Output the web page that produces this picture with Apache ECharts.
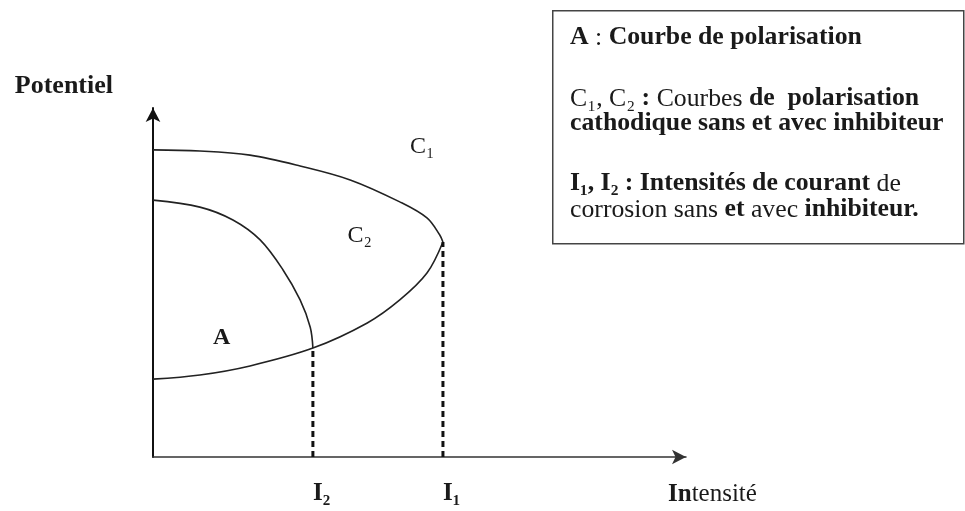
<!DOCTYPE html>
<html>
<head>
<meta charset="utf-8">
<script src="https://cdn.jsdelivr.net/npm/echarts@6/dist/echarts.min.js"></script>
<style>
html, body { margin: 0; padding: 0; background: #fff; }
#chart { width: 965px; height: 511px; }
</style>
</head>
<body>
<div id="chart"></div>
<script>
// courbe A : polarisation anodique
const anodeX = [0, 8.8, 15.0, 20.1, 24.4, 27.6, 29.5, 30.0]
const anodeY = [73.6, 71.6, 67.9, 62.2, 53.6, 45.0, 37.2, 31.2]
// courbe C1 : cathodique sans inhibiteur
const c1X = [0, 8.8, 18.2, 27.6, 37.0, 46.3, 51.4, 53.8, 54.4]
const c1Y = [88.0, 87.7, 86.5, 83.4, 79.4, 73.1, 68.5, 63.6, 61.6]
// courbe C2 : cathodique avec inhibiteur
const c2X = [0, 8.8, 18.2, 30.0, 40.2, 46.3, 51.4, 54.4]
const c2Y = [22.3, 23.5, 26.1, 31.2, 38.4, 45.0, 52.7, 61.6]
// intensites de corrosion (I2 avec inhibiteur, I1 sans)
const courantNoms = ['I₂', 'I₁']
const courantX = [30.0, 54.4]
const courantY = [31.2, 61.6]
// reperes des courbes
const repereNoms = ['{b|A}', '{n|C₂}', '{n|C₁}']
const repereX = [12.9, 38.8, 50.5]
const repereY = [34.1, 63.3, 88.8]
// texte de l'encadre
const legendeLignes = [
  '{b|A}{n| : }{b|Courbe de polarisation}',
  '{n|C₁, C₂ }{b|: }{n|Courbes }{b|de  polarisation}',
  '{b|cathodique sans et avec inhibiteur}',
  '{b|I₁, I₂ : Intensités de courant }{n|de}',
  '{n|corrosion sans }{b|et }{n|avec }{b|inhibiteur.}'
]

const serif = "'Liberation Serif', 'DejaVu Serif', serif"
const ink = '#1a1a1a'
const zip = (xs, ys) => xs.map((x, i) => [x, ys[i]])

const chart = echarts.init(document.getElementById('chart'))

const curveStyle = { color: '#222', width: 1.6 }
const richText = {
  b: { fontFamily: serif, fontSize: 25, fontWeight: 'bold', fill: ink },
  n: { fontFamily: serif, fontSize: 25, fontWeight: 'normal', fill: ink }
}
const ligneY = [38, 99, 124, 184, 210]

const option = {
  animation: false,
  backgroundColor: '#fff',
  grid: { left: 153, right: 279, top: 108, bottom: 54, outerBoundsMode: 'none' },
  xAxis: {
    type: 'value',
    min: 0,
    max: 100,
    name: '{b|In}{n|tensité}',
    nameLocation: 'end',
    nameGap: -18,
    nameTextStyle: {
      align: 'left',
      verticalAlign: 'top',
      padding: [25, 0, 0, 0],
      rich: {
        b: { fontFamily: serif, fontSize: 25, fontWeight: 'bold', color: ink },
        n: { fontFamily: serif, fontSize: 25, fontWeight: 'normal', color: ink }
      }
    },
    axisLine: {
      symbol: ['none', 'arrow'],
      symbolSize: [11, 14],
      lineStyle: { color: '#333', width: 1.5 }
    },
    axisTick: { show: false },
    splitLine: { show: false },
    axisLabel: {
      customValues: courantX,
      formatter: v => courantNoms[courantX.indexOf(v)],
      align: 'left',
      margin: 24,
      fontFamily: serif,
      fontSize: 25,
      fontWeight: 'bold',
      color: ink
    }
  },
  yAxis: {
    type: 'value',
    min: 0,
    max: 100,
    name: 'Potentiel',
    nameLocation: 'end',
    nameGap: 9,
    nameTextStyle: {
      fontFamily: serif,
      fontSize: 26,
      fontWeight: 'bold',
      color: ink,
      align: 'right',
      verticalAlign: 'bottom',
      padding: [0, 40, 0, 0]
    },
    axisLine: {
      symbol: ['none', 'arrow'],
      symbolSize: [11, 14],
      lineStyle: { color: '#111', width: 2 }
    },
    axisTick: { show: false },
    axisLabel: { show: false },
    splitLine: { show: false }
  },
  series: [
    {
      type: 'line',
      data: zip(anodeX, anodeY),
      smooth: 0.35,
      showSymbol: false,
      lineStyle: curveStyle
    },
    {
      type: 'line',
      data: zip(c1X, c1Y),
      smooth: 0.35,
      showSymbol: false,
      lineStyle: curveStyle
    },
    {
      type: 'line',
      data: zip(c2X, c2Y),
      smooth: 0.35,
      showSymbol: false,
      lineStyle: curveStyle
    },
    ...courantX.map((x, i) => ({
      type: 'line',
      data: [[x, 0], [x, courantY[i]]],
      showSymbol: false,
      lineStyle: { color: '#111', width: 3, type: [6, 4] }
    })),
    {
      type: 'scatter',
      symbolSize: 0,
      itemStyle: { opacity: 1 },
      data: repereNoms.map((n, i) => ({ name: n, value: [repereX[i], repereY[i]] })),
      label: {
        show: true,
        position: 'inside',
        formatter: p => p.name,
        rich: {
          b: { fontFamily: serif, fontSize: 24, fontWeight: 'bold', color: ink },
          n: { fontFamily: serif, fontSize: 24, fontWeight: 'normal', color: ink }
        }
      },
      labelLayout: { hideOverlap: false }
    }
  ],
  graphic: [
    {
      type: 'rect',
      left: 552,
      top: 10,
      shape: { width: 411, height: 233 },
      style: { fill: '#fff', stroke: '#444', lineWidth: 1.5 }
    },
    ...legendeLignes.map((t, i) => ({
      type: 'text',
      x: 570,
      y: ligneY[i],
      scaleX: 1.03,
      style: { text: t, rich: richText, verticalAlign: 'middle', fill: ink }
    }))
  ]
}

chart.setOption(option)
</script>
</body>
</html>
